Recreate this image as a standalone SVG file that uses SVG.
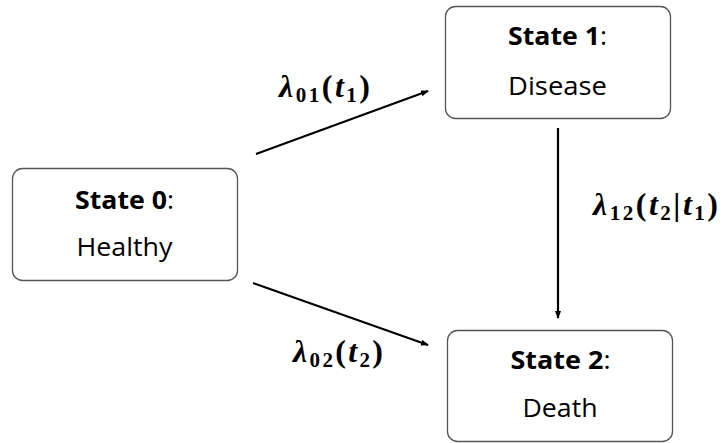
<svg xmlns="http://www.w3.org/2000/svg" width="723" height="443" viewBox="0 0 723 443">
<defs>
<style>
.box{fill:#fff;stroke:#555;stroke-width:1.3}
.t{font-family:"Open Sans","Noto Sans",sans-serif;font-size:25px;fill:#000;text-anchor:middle}
.b{font-weight:bold}
.m{font-family:"Liberation Serif","DejaVu Serif",serif;font-size:32px;font-weight:bold;fill:#000}
.i{font-style:italic}
.s{font-size:21px}
.c{stroke:#000;stroke-width:2.2;fill:none;marker-end:url(#ah)}
</style>
<marker id="ah" markerWidth="8" markerHeight="6" refX="7" refY="3" orient="auto" markerUnits="userSpaceOnUse">
<path d="M0,0 L8,3 L0,6 Z" fill="#000"/>
</marker>
</defs>
<rect width="723" height="443" fill="#fff"/>
<g id="state0">
<rect class="box" x="12.5" y="168.5" width="225" height="112" rx="10"/>
<text class="t" x="124.5" y="209" textLength="99" lengthAdjust="spacingAndGlyphs"><tspan class="b">State 0</tspan>:</text>
<text class="t" x="124.5" y="256" textLength="96" lengthAdjust="spacingAndGlyphs">Healthy</text>
</g>
<g id="state1">
<rect class="box" x="445.5" y="6.5" width="225" height="112" rx="10"/>
<text class="t" x="557.5" y="45" textLength="99" lengthAdjust="spacingAndGlyphs"><tspan class="b">State 1</tspan>:</text>
<text class="t" x="557.5" y="95" textLength="99" lengthAdjust="spacingAndGlyphs">Disease</text>
</g>
<g id="state2">
<rect class="box" x="447.5" y="330.5" width="225" height="111" rx="10"/>
<text class="t" x="560.5" y="369" textLength="100" lengthAdjust="spacingAndGlyphs"><tspan class="b">State 2</tspan>:</text>
<text class="t" x="560" y="417" textLength="75" lengthAdjust="spacingAndGlyphs">Death</text>
</g>
<g id="connectors">
<line class="c" x1="256" y1="154" x2="428" y2="91"/>
<line class="c" x1="253" y1="283" x2="428" y2="345"/>
<line class="c" x1="558" y1="128" x2="558" y2="318"/>
</g>
<g id="labels">
<text class="m" x="279" y="97" textLength="91" lengthAdjust="spacing"><tspan class="i">λ</tspan><tspan class="s" dy="5">01</tspan><tspan dy="-5">(</tspan><tspan class="i">t</tspan><tspan class="s" dy="5">1</tspan><tspan dy="-5">)</tspan></text>
<text class="m" x="293" y="362" textLength="90" lengthAdjust="spacing"><tspan class="i">λ</tspan><tspan class="s" dy="5">02</tspan><tspan dy="-5">(</tspan><tspan class="i">t</tspan><tspan class="s" dy="5">2</tspan><tspan dy="-5">)</tspan></text>
<text class="m" x="593" y="215" textLength="125" lengthAdjust="spacing"><tspan class="i">λ</tspan><tspan class="s" dy="5">12</tspan><tspan dy="-5">(</tspan><tspan class="i">t</tspan><tspan class="s" dy="5">2</tspan><tspan dy="-5">|</tspan><tspan class="i">t</tspan><tspan class="s" dy="5">1</tspan><tspan dy="-5">)</tspan></text>
</g>
</svg>
